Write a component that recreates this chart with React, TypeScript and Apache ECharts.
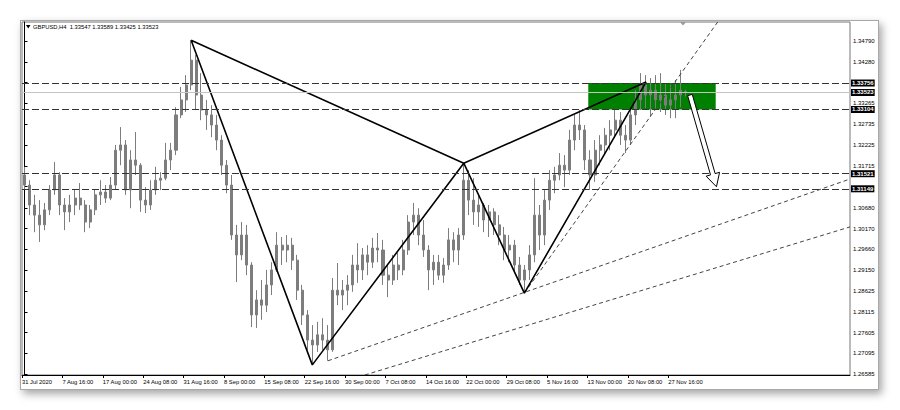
import React, { useEffect, useRef } from "react";
import * as echarts from "echarts";

const title = "GBPUSD,H4  1.33547 1.33589 1.33425 1.33523";

const xTickLabels = [
  "31 Jul 2020", "7 Aug 16:00", "17 Aug 00:00", "24 Aug 08:00", "31 Aug 16:00", "8 Sep 00:00",
  "15 Sep 08:00", "22 Sep 16:00", "30 Sep 00:00", "7 Oct 08:00", "14 Oct 16:00", "22 Oct 00:00",
  "29 Oct 08:00", "5 Nov 16:00", "13 Nov 00:00", "20 Nov 08:00", "27 Nov 16:00",
];
const CANDLES_PER_LABEL = 8;
const CATEGORY_COUNT = 164;

const yTickValues = [
  1.26585, 1.27095, 1.27605, 1.28115, 1.28625, 1.2915, 1.2966, 1.3017, 1.3068,
  1.31205, 1.31715, 1.32225, 1.32735, 1.33265, 1.3377, 1.3428, 1.3479,
];
// labels hidden behind the price boxes in the original are left out
const yLabelValues = [
  1.26585, 1.27095, 1.27605, 1.28115, 1.28625, 1.2915, 1.2966, 1.3017, 1.3068,
  1.31715, 1.32225, 1.32735, 1.33265, 1.3428, 1.3479,
];
const Y_MIN = 1.2656;
const Y_MAX = 1.3526;

const opens = [
  1.3149, 1.3124, 1.3075, 1.3050, 1.3026, 1.3063, 1.3112, 1.3149, 1.3075, 1.3058,
  1.3075, 1.3092, 1.3075, 1.3033, 1.3063, 1.3100, 1.3107, 1.3092, 1.3124, 1.3210,
  1.3223, 1.3112, 1.3186, 1.3173, 1.3087, 1.3075, 1.3112, 1.3136, 1.3141, 1.3186,
  1.3210, 1.3297, 1.3334, 1.3371, 1.3432, 1.3346, 1.3309, 1.3297, 1.3272, 1.3235,
  1.3173, 1.3124, 1.3001, 1.2952, 1.3001, 1.2927, 1.2804, 1.2841, 1.2828, 1.2878,
  1.2915, 1.2976, 1.2964, 1.2976, 1.2939, 1.2865, 1.2804, 1.2742, 1.2730, 1.2755,
  1.2742, 1.2718, 1.2865, 1.2853, 1.2865, 1.2878, 1.2927, 1.2915, 1.2952, 1.2934,
  1.2969, 1.2964, 1.2902, 1.2890, 1.2927, 1.2915, 1.2964, 1.3033, 1.3050, 1.3001,
  1.2964, 1.2915, 1.2934, 1.2902, 1.2927, 1.2989, 1.2964, 1.3001, 1.3136, 1.3087,
  1.3058, 1.3075, 1.3038, 1.3058, 1.3026, 1.3001, 1.2964, 1.2976, 1.2927, 1.2890,
  1.2915, 1.2952, 1.3050, 1.3001, 1.3087, 1.3136, 1.3149, 1.3173, 1.3161, 1.3235,
  1.3272, 1.3260, 1.3186, 1.3149, 1.3210, 1.3223, 1.3247, 1.3260, 1.3284, 1.3247,
  1.3235, 1.3297, 1.3334, 1.3371, 1.3346, 1.3358, 1.3334, 1.3346, 1.3321, 1.3334,
  1.3346, 1.33547,
];
const closes = [
  1.3124, 1.3075, 1.3050, 1.3026, 1.3063, 1.3112, 1.3149, 1.3075, 1.3058, 1.3075,
  1.3092, 1.3075, 1.3033, 1.3063, 1.3100, 1.3107, 1.3092, 1.3124, 1.3210, 1.3223,
  1.3112, 1.3186, 1.3173, 1.3087, 1.3075, 1.3112, 1.3136, 1.3141, 1.3186, 1.3210,
  1.3297, 1.3334, 1.3371, 1.3432, 1.3346, 1.3309, 1.3297, 1.3272, 1.3235, 1.3173,
  1.3124, 1.3001, 1.2952, 1.3001, 1.2927, 1.2804, 1.2841, 1.2828, 1.2878, 1.2915,
  1.2976, 1.2964, 1.2976, 1.2939, 1.2865, 1.2804, 1.2742, 1.2730, 1.2755, 1.2742,
  1.2718, 1.2865, 1.2853, 1.2865, 1.2878, 1.2927, 1.2915, 1.2952, 1.2934, 1.2969,
  1.2964, 1.2902, 1.2890, 1.2927, 1.2915, 1.2964, 1.3033, 1.3050, 1.3001, 1.2964,
  1.2915, 1.2934, 1.2902, 1.2927, 1.2989, 1.2964, 1.3001, 1.3136, 1.3087, 1.3058,
  1.3075, 1.3038, 1.3058, 1.3026, 1.3001, 1.2964, 1.2976, 1.2927, 1.2890, 1.2915,
  1.2952, 1.3050, 1.3001, 1.3087, 1.3136, 1.3149, 1.3173, 1.3161, 1.3235, 1.3272,
  1.3260, 1.3186, 1.3149, 1.3210, 1.3223, 1.3247, 1.3260, 1.3284, 1.3247, 1.3235,
  1.3297, 1.3334, 1.3371, 1.3346, 1.3358, 1.3334, 1.3346, 1.3321, 1.3334, 1.3346,
  1.3358, 1.33523,
];
const lows = [
  1.3112, 1.3050, 1.3008, 1.2984, 1.3013, 1.3050, 1.3100, 1.3050, 1.3013, 1.3033,
  1.3050, 1.3063, 1.3008, 1.3018, 1.3050, 1.3075, 1.3080, 1.3087, 1.3112, 1.3173,
  1.3100, 1.3067, 1.3149, 1.3058, 1.3055, 1.3063, 1.3100, 1.3112, 1.3136, 1.3161,
  1.3198, 1.3289, 1.3304, 1.3358, 1.3309, 1.3284, 1.3260, 1.3242, 1.3210, 1.3149,
  1.3104, 1.2989, 1.2885, 1.2939, 1.2902, 1.2774, 1.2772, 1.2792, 1.2811, 1.2853,
  1.2910, 1.2927, 1.2934, 1.2915, 1.2841, 1.2779, 1.2718, 1.2681, 1.2713, 1.2718,
  1.2691, 1.2713, 1.2828, 1.2816, 1.2828, 1.2861, 1.2883, 1.2890, 1.2902, 1.2920,
  1.2934, 1.2878, 1.2848, 1.2878, 1.2890, 1.2902, 1.2952, 1.3001, 1.2976, 1.2947,
  1.2865, 1.2878, 1.2890, 1.2883, 1.2915, 1.2934, 1.2927, 1.2989, 1.3050, 1.3026,
  1.3021, 1.3008, 1.2996, 1.3001, 1.2976, 1.2939, 1.2934, 1.2910, 1.2878, 1.2858,
  1.2890, 1.2934, 1.2964, 1.2976, 1.3063, 1.3104, 1.3136, 1.3119, 1.3149, 1.3210,
  1.3235, 1.3161, 1.3112, 1.3132, 1.3173, 1.3198, 1.3210, 1.3240, 1.3223, 1.3203,
  1.3223, 1.3272, 1.3309, 1.3314, 1.3292, 1.3309, 1.3304, 1.3297, 1.3289, 1.3289,
  1.3316, 1.33425,
];
const highs = [
  1.3169, 1.3136, 1.3100, 1.3087, 1.3080, 1.3124, 1.3181, 1.3156, 1.3092, 1.3100,
  1.3112, 1.3129, 1.3087, 1.3075, 1.3112, 1.3136, 1.3124, 1.3144, 1.3223, 1.3267,
  1.3235, 1.3210, 1.3255, 1.3178, 1.3119, 1.3136, 1.3169, 1.3156, 1.3228, 1.3228,
  1.3316, 1.3366, 1.3395, 1.3481, 1.3445, 1.3400, 1.3334, 1.3321, 1.3297, 1.3247,
  1.3186, 1.3149, 1.3026, 1.3033, 1.3026, 1.2934, 1.2865, 1.2890, 1.2915, 1.2934,
  1.3008, 1.2996, 1.3001, 1.2994, 1.2952, 1.2878, 1.2816, 1.2779, 1.2787, 1.2796,
  1.2779, 1.2895, 1.2932, 1.2890, 1.2902, 1.2952, 1.2981, 1.2969, 1.2976, 1.2994,
  1.3006, 1.2989, 1.2927, 1.2952, 1.2957, 1.2989, 1.3050, 1.3080, 1.3067, 1.3038,
  1.2976, 1.2952, 1.2952, 1.2944, 1.3018, 1.3008, 1.3018, 1.3178, 1.3161, 1.3141,
  1.3100, 1.3080, 1.3075, 1.3067, 1.3050, 1.3021, 1.3001, 1.2989, 1.2947, 1.2927,
  1.2976, 1.3141, 1.3075, 1.3112, 1.3161, 1.3169, 1.3203, 1.3198, 1.3260, 1.3297,
  1.3309, 1.3272, 1.3210, 1.3235, 1.3247, 1.3265, 1.3284, 1.3309, 1.3304, 1.3272,
  1.3309, 1.3358, 1.3400, 1.3395, 1.3388, 1.3395, 1.3400, 1.3375, 1.3371, 1.3383,
  1.3408, 1.33589,
];

// Harmonic pattern pivots X, A, B, C, D as [candle index, price]
const pivotX = [33, 1.3481];
const pivotA = [57, 1.2681];
const pivotB = [87, 1.3178];
const pivotC = [99, 1.2858];
const pivotD = [123.1, 1.3378];

const levelLines = [1.33756, 1.33104, 1.31521, 1.31149];
const bidPrice = 1.33523;

const channelLine = [[99, 1.2858], [137.3, 1.3526]];
const supportLine1 = [[60.1, 1.2691], [163.5, 1.3139]];
const supportLine2 = [[67.4, 1.2656], [163.5, 1.3021]];

const zoneStart = 111.66;
const zoneEnd = 136.9;
const zoneTop = 1.33756;
const zoneBottom = 1.33104;

const arrowFrom = [131.8, 1.3346];
const arrowTo = [137.05, 1.312];

const FONT = "Liberation Sans";

export default function App() {
  const ref = useRef<HTMLDivElement>(null);

  useEffect(() => {
    if (!ref.current) return;
    const chart = echarts.init(ref.current, null, { renderer: "svg" });

    const categories = Array.from({ length: CATEGORY_COUNT }, (_, i) => String(i));
    const candleData = opens.map((o, i) => [o, closes[i], lows[i], highs[i]]);
    const xTickPositions = xTickLabels.map((_, k) => k * CANDLES_PER_LABEL - 0.5);

    const dashed = (data: number[][]) => ({
      type: "line",
      xAxisIndex: 1,
      yAxisIndex: 0,
      data,
      symbol: "none",
      silent: true,
      z: 3,
      lineStyle: { color: "#444", width: 1, type: [4, 3] },
    });

    const hLine = (v: number, solid: boolean) => ({
      yAxis: v,
      lineStyle: solid
        ? { color: "#c4c4c4", width: 1, type: "solid" }
        : { color: "#333", width: 1, type: [7, 3] },
    });

    chart.setOption({
      animation: false,
      backgroundColor: "transparent",
      grid: {
        left: 22,
        right: 50,
        top: 22,
        bottom: 35,
        show: true,
        borderColor: "#777",
        borderWidth: 1,
        backgroundColor: "transparent",
      },
      xAxis: [
        {
          type: "category",
          data: categories,
          boundaryGap: true,
          axisLine: { show: true, lineStyle: { color: "#000", width: 1 } },
          axisTick: { show: false },
          axisLabel: { show: false },
          splitLine: { show: false },
        },
        {
          type: "value",
          min: -0.5,
          max: CATEGORY_COUNT - 0.5,
          position: "bottom",
          axisLine: { show: false },
          splitLine: { show: false },
          axisTick: {
            show: true,
            customValues: xTickPositions,
            length: 3,
            lineStyle: { color: "#000" },
          },
          axisLabel: {
            show: true,
            customValues: xTickPositions,
            formatter: (v: number) =>
              xTickLabels[Math.round((v + 0.5) / CANDLES_PER_LABEL)] ?? "",
            align: "left",
            fontSize: 5.8,
            fontFamily: FONT,
            color: "#000",
            margin: 4,
          },
        },
      ],
      yAxis: {
        type: "value",
        position: "right",
        min: Y_MIN,
        max: Y_MAX,
        splitLine: { show: false },
        axisLine: { show: true, lineStyle: { color: "#000" } },
        axisTick: {
          show: true,
          customValues: yTickValues,
          length: 3,
          lineStyle: { color: "#000" },
        },
        axisLabel: {
          customValues: yLabelValues,
          formatter: (v: number) => v.toFixed(5),
          fontSize: 6,
          fontFamily: FONT,
          color: "#000",
          margin: 3,
        },
      },
      graphic: [
        {
          type: "polygon",
          shape: { points: [[26, 25], [30.5, 25], [28.25, 28.5]] },
          style: { fill: "#000" },
        },
        {
          type: "text",
          left: 33,
          top: 24,
          style: { text: title, fontSize: 5.8, fontFamily: FONT, fill: "#000" },
        },
        {
          type: "polygon",
          shape: { points: [[680, 22], [686, 22], [683, 25.5]] },
          style: { fill: "#9a9a9a" },
        },
      ],
      series: [
        {
          type: "line",
          xAxisIndex: 1,
          yAxisIndex: 0,
          data: [[zoneStart, zoneTop]],
          symbol: "none",
          silent: true,
          z: 1,
          lineStyle: { opacity: 0 },
          markArea: {
            silent: true,
            itemStyle: { color: "#008000" },
            data: [[{ coord: [zoneStart, zoneTop] }, { coord: [zoneEnd, zoneBottom] }]],
          },
        },
        {
          type: "candlestick",
          xAxisIndex: 0,
          yAxisIndex: 0,
          data: candleData,
          barMaxWidth: 3,
          z: 2,
          itemStyle: {
            color: "#7d7d7d",
            color0: "#7d7d7d",
            borderColor: "#7d7d7d",
            borderColor0: "#7d7d7d",
            borderWidth: 1,
          },
        },
        {
          type: "line",
          xAxisIndex: 1,
          yAxisIndex: 0,
          data: [],
          symbol: "none",
          silent: true,
          z: 3,
          markLine: {
            silent: true,
            precision: 5,
            symbol: ["none", "none"],
            label: {
              show: true,
              position: "end",
              distance: 1,
              formatter: (p: any) => Number(p.value).toFixed(5),
              backgroundColor: "#000",
              color: "#fff",
              fontSize: 6,
              fontFamily: FONT,
              fontWeight: "bold",
              padding: [1, 1, 0, 1],
            },
            data: [
              ...levelLines.map((v) => hLine(v, false)),
              hLine(bidPrice, true),
            ],
          },
        },
        dashed(channelLine),
        dashed(supportLine1),
        dashed(supportLine2),
        {
          type: "line",
          xAxisIndex: 1,
          yAxisIndex: 0,
          data: [pivotX, pivotA, pivotB, pivotC, pivotD, pivotB, pivotX],
          symbol: "none",
          silent: true,
          z: 4,
          lineStyle: { color: "#000", width: 1.6 },
        },
        {
          type: "custom",
          xAxisIndex: 1,
          yAxisIndex: 0,
          z: 5,
          silent: true,
          clip: false,
          data: [[arrowFrom[0], arrowFrom[1], arrowTo[0], arrowTo[1]]],
          renderItem: (_params: any, api: any) => {
            const s = api.coord([api.value(0), api.value(1)]);
            const t = api.coord([api.value(2), api.value(3)]);
            const dx = t[0] - s[0];
            const dy = t[1] - s[1];
            const len = Math.hypot(dx, dy) || 1;
            const ux = dx / len;
            const uy = dy / len;
            const nx = -uy;
            const ny = ux;
            const sw = 2.4;
            const hw = 7;
            const hl = 13;
            const bx = t[0] - ux * hl;
            const by = t[1] - uy * hl;
            return {
              type: "polygon",
              shape: {
                points: [
                  [s[0] + nx * sw, s[1] + ny * sw],
                  [bx + nx * sw, by + ny * sw],
                  [bx + nx * hw, by + ny * hw],
                  [t[0], t[1]],
                  [bx - nx * hw, by - ny * hw],
                  [bx - nx * sw, by - ny * sw],
                  [s[0] - nx * sw, s[1] - ny * sw],
                ],
              },
              style: { fill: "#fff", stroke: "#000", lineWidth: 1 },
            };
          },
        },
      ],
    });

    return () => chart.dispose();
  }, []);

  return (
    <div
      style={{
        position: "absolute",
        left: 0,
        top: 0,
        width: 900,
        height: 410,
        background: "#fff",
        overflow: "hidden",
      }}
    >
      <div
        style={{
          position: "absolute",
          left: 20,
          top: 20,
          width: 857,
          height: 368,
          border: "1px solid #a8a8a8",
          background: "#fff",
          boxShadow: "3px 4px 8px rgba(0,0,0,0.35)",
        }}
      />
      <div
        ref={ref}
        style={{ position: "absolute", left: 0, top: 0, width: 900, height: 410 }}
      />
    </div>
  );
}
